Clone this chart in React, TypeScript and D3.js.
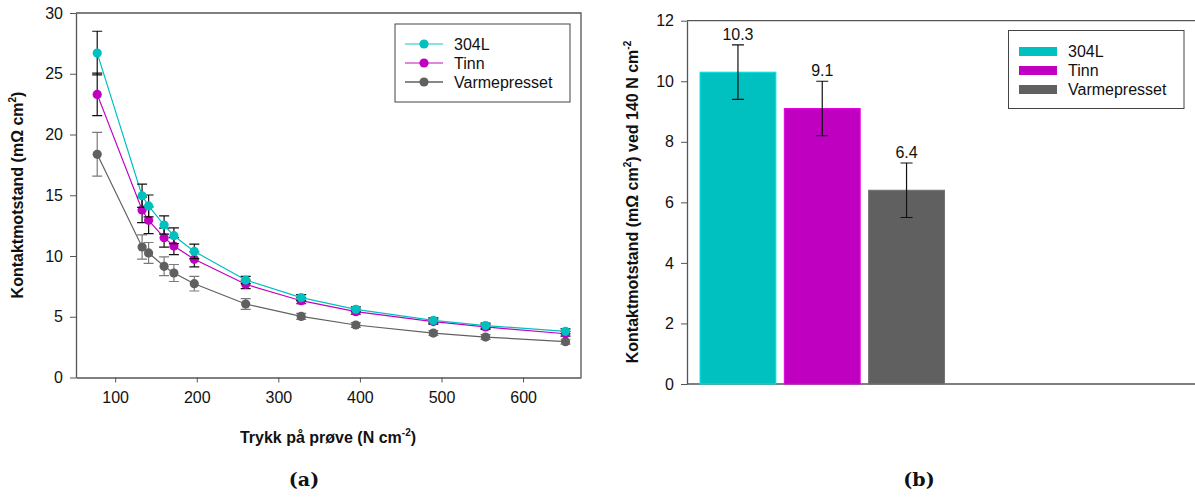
import React, { useEffect, useRef } from "react";
import * as d3 from "d3";

// Contact resistance vs. compaction pressure, three sample types
const pressure = [78, 133, 141, 160, 172, 197, 260, 328, 395, 490, 554, 652];
const r304L = [26.7, 14.96, 14.12, 12.55, 11.67, 10.38, 8.02, 6.57, 5.61, 4.7, 4.27, 3.8];
const e304L = [1.8, 0.95, 0.9, 0.75, 0.65, 0.6, 0.3, 0.25, 0.2, 0.2, 0.2, 0.2];
const rTinn = [23.3, 13.79, 12.94, 11.51, 10.82, 9.73, 7.67, 6.32, 5.42, 4.6, 4.16, 3.6];
const eTinn = [1.75, 1.05, 1.1, 0.78, 0.7, 0.62, 0.35, 0.25, 0.2, 0.2, 0.2, 0.2];
const rVarm = [18.37, 10.74, 10.25, 9.15, 8.6, 7.72, 6.05, 5.03, 4.32, 3.66, 3.33, 2.95];
const eVarm = [1.8, 1.0, 0.86, 0.77, 0.7, 0.6, 0.44, 0.25, 0.2, 0.2, 0.2, 0.2];

// Contact resistance at 140 N cm^-2
const barNames = ["304L", "Tinn", "Varmepresset"];
const barValues = [10.3, 9.1, 6.4];
const barErrors = [0.9, 0.9, 0.9];

const seriesNames = ["304L", "Tinn", "Varmepresset"];
const colors = ["#00c0c0", "#c000c0", "#606060"];
const legendLineColors = ["#5fd8d8", "#d35fd3", "#606060"];
const errColors = ["#111111", "#111111", "#7a7a7a"];

const xTicksA = [100, 200, 300, 400, 500, 600];
const yTicksA = [0, 5, 10, 15, 20, 25, 30];
const yTicksB = [0, 2, 4, 6, 8, 10, 12];

const FONT = "Liberation Sans, Arial, sans-serif";
const AXIS = "#555555";

export default function App() {
  const ref = useRef<SVGSVGElement>(null);

  useEffect(() => {
    const svg = d3.select(ref.current);
    svg.selectAll("*").remove();

    // ---------- panel (a) ----------
    const x = d3.scaleLinear().domain([52, 671]).range([76, 581]);
    const y = d3.scaleLinear().domain([0, 30]).range([377.5, 13]);
    const a = svg.append("g");

    // frame: top and right edges
    a.append("path")
      .attr("d", `M${x.range()[0]},${y(30)}H${x.range()[1]}V${y(0)}`)
      .attr("fill", "none").attr("stroke", AXIS).attr("stroke-width", 1.3);

    const xAxis = a.append("g").attr("transform", `translate(0,${y(0)})`)
      .call(d3.axisBottom(x).tickValues(xTicksA).tickSize(5).tickPadding(9).tickSizeOuter(0));
    xAxis.select(".domain").attr("stroke", AXIS).attr("stroke-width", 1.3);
    xAxis.selectAll(".tick line").attr("stroke", AXIS);
    xAxis.selectAll("text").attr("font-family", FONT).attr("font-size", 16).attr("fill", "#111");

    const yAxis = a.append("g").attr("transform", `translate(${x.range()[0]},0)`)
      .call(d3.axisLeft(y).tickValues(yTicksA).tickSize(6).tickPadding(7).tickSizeOuter(0));
    yAxis.select(".domain").attr("stroke", AXIS).attr("stroke-width", 1.3);
    yAxis.selectAll(".tick line").attr("stroke", AXIS);
    yAxis.selectAll("text").attr("font-family", FONT).attr("font-size", 16).attr("fill", "#111");

    const series = [
      { v: r304L, e: e304L },
      { v: rTinn, e: eTinn },
      { v: rVarm, e: eVarm },
    ];
    const line = d3.line<number>().x((_, i) => x(pressure[i])).y((d) => y(d));

    // draw back-to-front so 304L sits on top
    [2, 1, 0].forEach((k) => {
      const s = series[k];
      const g = a.append("g");
      g.append("path").attr("d", line(s.v))
        .attr("fill", "none").attr("stroke", colors[k]).attr("stroke-width", 1.2);
      s.v.forEach((v, i) => {
        const cx = x(pressure[i]);
        const y1 = y(v + s.e[i]);
        const y2 = y(v - s.e[i]);
        g.append("path")
          .attr("d", `M${cx},${y1}V${y2}M${cx - 5},${y1}H${cx + 5}M${cx - 5},${y2}H${cx + 5}`)
          .attr("stroke", errColors[k]).attr("stroke-width", 1.2).attr("fill", "none");
      });
      g.selectAll("circle").data(s.v).enter().append("circle")
        .attr("cx", (_, i) => x(pressure[i])).attr("cy", (d) => y(d))
        .attr("r", 4.6).attr("fill", colors[k]);
    });

    // legend (a)
    const la = a.append("g");
    la.append("rect").attr("x", 395).attr("y", 24).attr("width", 175).attr("height", 78)
      .attr("fill", "#fff").attr("stroke", "#444").attr("stroke-width", 1);
    seriesNames.forEach((n, i) => {
      const ly = 44 + i * 19;
      la.append("line").attr("x1", 405).attr("x2", 443).attr("y1", ly).attr("y2", ly)
        .attr("stroke", legendLineColors[i]).attr("stroke-width", 1.3);
      la.append("circle").attr("cx", 424).attr("cy", ly).attr("r", 4.6).attr("fill", colors[i]);
      la.append("text").attr("x", 454).attr("y", ly + 5.5).text(n)
        .attr("font-family", FONT).attr("font-size", 16).attr("fill", "#111");
    });

    // axis titles (a)
    const xt = a.append("text").attr("x", 328).attr("y", 443).attr("text-anchor", "middle")
      .attr("font-family", FONT).attr("font-weight", "bold").attr("font-size", 16).attr("fill", "#111");
    xt.append("tspan").text("Trykk på prøve (N cm");
    xt.append("tspan").text("-2").attr("font-size", 10).attr("dy", -7);
    xt.append("tspan").text(")").attr("dy", 7);

    const yt = a.append("text").attr("transform", `translate(23,${195}) rotate(-90)`)
      .attr("text-anchor", "middle")
      .attr("font-family", FONT).attr("font-weight", "bold").attr("font-size", 16).attr("fill", "#111");
    yt.append("tspan").text("Kontaktmotstand (mΩ cm");
    yt.append("tspan").text("2").attr("font-size", 10).attr("dy", -7);
    yt.append("tspan").text(")").attr("dy", 7);

    // ---------- panel (b) ----------
    const yb = d3.scaleLinear().domain([0, 12]).range([384, 20.7]);
    const xb = d3.scaleBand<string>().domain(barNames).range([695.8, 948.7])
      .paddingInner(0.1).paddingOuter(0.05);
    const b = svg.append("g");
    const bx0 = 687;

    b.append("line").attr("x1", bx0).attr("x2", 1195).attr("y1", yb(12)).attr("y2", yb(12))
      .attr("stroke", AXIS).attr("stroke-width", 1.3);
    b.append("line").attr("x1", bx0).attr("x2", 1195).attr("y1", yb(0)).attr("y2", yb(0))
      .attr("stroke", AXIS).attr("stroke-width", 1.3);

    const ybAxis = b.append("g").attr("transform", `translate(${bx0},0)`)
      .call(d3.axisLeft(yb).tickValues(yTicksB).tickSize(6).tickPadding(7).tickSizeOuter(0));
    ybAxis.select(".domain").attr("stroke", AXIS).attr("stroke-width", 1.3);
    ybAxis.selectAll(".tick line").attr("stroke", AXIS);
    ybAxis.selectAll("text").attr("font-family", FONT).attr("font-size", 16).attr("fill", "#111");

    barNames.forEach((n, i) => {
      const bx = xb(n)!;
      const bw = xb.bandwidth();
      b.append("rect").attr("x", bx).attr("y", yb(barValues[i]))
        .attr("width", bw).attr("height", yb(0) - yb(barValues[i]))
        .attr("fill", colors[i]).attr("stroke", d3.color(colors[i])!.brighter(0.5).toString())
        .attr("stroke-width", 1);
      const cx = bx + bw / 2;
      const t = yb(barValues[i] + barErrors[i]);
      const bt = yb(barValues[i] - barErrors[i]);
      b.append("path")
        .attr("d", `M${cx},${t}V${bt}M${cx - 6},${t}H${cx + 6}M${cx - 6},${bt}H${cx + 6}`)
        .attr("stroke", "#111").attr("stroke-width", 1.2).attr("fill", "none");
      b.append("text").attr("x", cx).attr("y", t - 5).attr("text-anchor", "middle")
        .text(barValues[i].toFixed(1))
        .attr("font-family", FONT).attr("font-size", 16).attr("fill", "#111");
    });

    // legend (b)
    const lb = b.append("g");
    lb.append("rect").attr("x", 1008.5).attr("y", 30.5).attr("width", 175.5).attr("height", 78)
      .attr("fill", "#fff").attr("stroke", "#444").attr("stroke-width", 1);
    barNames.forEach((n, i) => {
      const ly = 51.5 + i * 19;
      lb.append("rect").attr("x", 1019).attr("y", ly - 4.5).attr("width", 38).attr("height", 9)
        .attr("fill", colors[i]);
      lb.append("text").attr("x", 1068).attr("y", ly + 5.5).text(n)
        .attr("font-family", FONT).attr("font-size", 16).attr("fill", "#111");
    });

    const ytb = b.append("text").attr("transform", `translate(638,${202}) rotate(-90)`)
      .attr("text-anchor", "middle")
      .attr("font-family", FONT).attr("font-weight", "bold").attr("font-size", 16).attr("fill", "#111");
    ytb.append("tspan").text("Kontaktmotstand (mΩ cm");
    ytb.append("tspan").text("2").attr("font-size", 10).attr("dy", -7);
    ytb.append("tspan").text(") ved 140 N cm").attr("dy", 7);
    ytb.append("tspan").text("-2").attr("font-size", 10).attr("dy", -7);

    // panel captions
    [["(a)", 304], ["(b)", 919]].forEach(([s, cx]) => {
      svg.append("text").attr("x", cx as number).attr("y", 486).attr("text-anchor", "middle")
        .text(s as string)
        .attr("font-family", "DejaVu Serif, serif").attr("font-weight", "bold")
        .attr("font-size", 19).attr("fill", "#111");
    });
  }, []);

  return (
    <svg
      ref={ref}
      width={1195}
      height={498}
      style={{ position: "absolute", left: 0, top: 0, background: "#fff" }}
    />
  );
}
